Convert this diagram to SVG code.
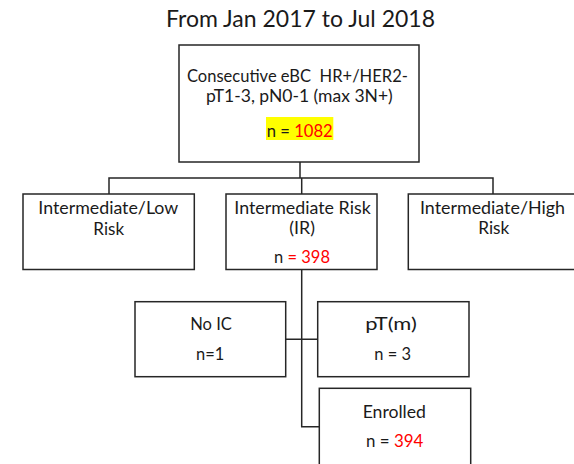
<svg xmlns="http://www.w3.org/2000/svg" width="574" height="464" viewBox="0 0 574 464">
<style>
.box{fill:#fff;stroke:#262626;stroke-width:1.5}
.t{font-family:Lato,"Liberation Sans",sans-serif;font-size:17.8px;fill:#1a1a1a;text-anchor:middle}
.title{font-family:Lato,"Liberation Sans",sans-serif;font-size:23.5px;fill:#1a1a1a;text-anchor:middle}
.red{fill:#ff0000}
.conn{fill:none;stroke:#262626;stroke-width:1.5}
</style>
<rect width="574" height="464" fill="#fff"/>
<text class="title" x="300.5" y="27" textLength="269" lengthAdjust="spacingAndGlyphs">From Jan 2017 to Jul 2018</text>
<g id="connectors">
<path class="conn" d="M300,162 V178 M109,196 V178 H493 V196 M301.7,178 V196"/>
<path class="conn" d="M301.7,270 V426.7 H319.3 M285.7,339.3 H317.7"/>
</g>
<g id="top">
<rect class="box" x="179" y="45" width="240" height="117"/>
<rect x="266" y="117" width="67.3" height="23" fill="#ffff00"/>
<text class="t" x="297.4" y="82" textLength="221" lengthAdjust="spacingAndGlyphs">Consecutive eBC&#160; HR+/HER2-</text>
<text class="t" x="299.4" y="102" textLength="186.7" lengthAdjust="spacingAndGlyphs">pT1-3, pN0-1 (max 3N+)</text>
<text class="t" x="299.7" y="136.5" textLength="66" lengthAdjust="spacingAndGlyphs">n = <tspan class="red">1082</tspan></text>
</g>
<g id="low">
<rect class="box" x="23" y="194" width="171.3" height="75.5"/>
<text class="t" x="108.3" y="214" textLength="140" lengthAdjust="spacingAndGlyphs">Intermediate/Low</text>
<text class="t" x="108.7" y="235" textLength="30.7" lengthAdjust="spacingAndGlyphs">Risk</text>
</g>
<g id="ir">
<rect class="box" x="226" y="194" width="151" height="75.5"/>
<text class="t" x="302.5" y="213.5" textLength="136.4" lengthAdjust="spacingAndGlyphs">Intermediate Risk</text>
<text class="t" x="302.2" y="234" textLength="25.7" lengthAdjust="spacingAndGlyphs">(IR)</text>
<text class="t" x="302" y="263.3" textLength="56" lengthAdjust="spacingAndGlyphs">n <tspan class="red">= 398</tspan></text>
</g>
<g id="high">
<rect class="box" x="408.3" y="194" width="170" height="75.5"/>
<text class="t" x="492.5" y="213.5" textLength="145" lengthAdjust="spacingAndGlyphs">Intermediate/High</text>
<text class="t" x="493.8" y="233.5" textLength="31" lengthAdjust="spacingAndGlyphs">Risk</text>
</g>
<g id="noic">
<rect class="box" x="135" y="301.7" width="150.7" height="75"/>
<text class="t" x="211" y="330" textLength="41.7" lengthAdjust="spacingAndGlyphs">No IC</text>
<text class="t" x="210.2" y="360" textLength="28.3" lengthAdjust="spacingAndGlyphs">n=1</text>
</g>
<g id="ptm">
<rect class="box" x="317.7" y="301.7" width="151.3" height="75"/>
<text class="t" x="391" y="330" textLength="51.7" lengthAdjust="spacingAndGlyphs">pT(m)</text>
<text class="t" x="392.7" y="360" textLength="36.7" lengthAdjust="spacingAndGlyphs">n = 3</text>
</g>
<g id="enrolled">
<rect class="box" x="319.3" y="388.3" width="151.4" height="80"/>
<text class="t" x="394.3" y="417.7" textLength="63.3" lengthAdjust="spacingAndGlyphs">Enrolled</text>
<text class="t" x="394.7" y="446.7" textLength="57.3" lengthAdjust="spacingAndGlyphs">n = <tspan class="red">394</tspan></text>
</g>
</svg>
